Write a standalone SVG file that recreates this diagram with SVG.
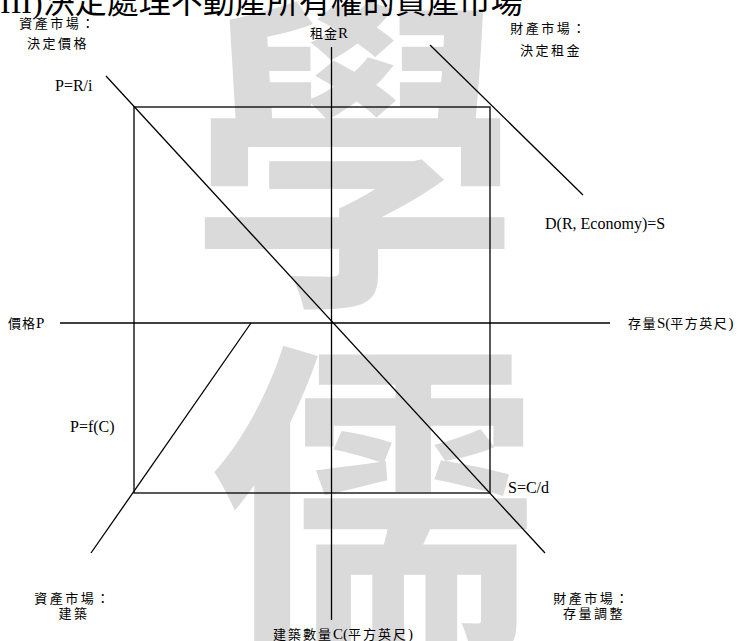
<svg xmlns="http://www.w3.org/2000/svg" width="751" height="641" viewBox="0 0 751 641">
<style>
.wm{font-family:'Noto Sans CJK TC','Noto Sans CJK SC',sans-serif;font-weight:700;fill:#dadada;text-anchor:middle}
.cj{font-family:'Liberation Serif','Noto Sans CJK TC',serif;font-size:13px;letter-spacing:2.5px;fill:#000}
.lt{font-size:15px;letter-spacing:0}
.mid{text-anchor:middle}
.eq{font-family:'Liberation Serif','Times New Roman',serif;font-size:16px;fill:#000}
.title{font-family:'Liberation Serif','Noto Sans CJK TC',serif;font-size:32px;fill:#000}
.ln{stroke:#000;stroke-width:1.3;fill:none}
</style>
<rect width="751" height="641" fill="#fff"/>
<g id="watermark">
<text class="wm" x="355" y="280" font-size="330">學</text>
<text class="wm" x="375" y="625" font-size="330">儒</text>
</g>
<text class="title" x="0" y="13">III)決定處理不動產所有權的資產市場</text>
<g id="connectors">
<line class="ln" x1="331.5" y1="47" x2="331.5" y2="620"/>
<line class="ln" x1="60" y1="323" x2="610" y2="323"/>
<rect class="ln" x="134" y="107" width="356" height="386"/>
<line class="ln" x1="106" y1="76" x2="545" y2="553"/>
<line class="ln" x1="430" y1="45" x2="583" y2="195"/>
<line class="ln" x1="251" y1="323" x2="91" y2="553"/>
</g>
<g id="asset-price">
<text class="cj mid" x="58" y="28">資產市場：</text>
<text class="cj mid" x="58" y="48">決定價格</text>
</g>
<g id="property-rent">
<text class="cj mid" x="549" y="33">財產市場：</text>
<text class="cj mid" x="551" y="55">決定租金</text>
</g>
<g id="asset-construction">
<text class="cj mid" x="73" y="603">資產市場：</text>
<text class="cj mid" x="74" y="618">建築</text>
</g>
<g id="property-stock">
<text class="cj mid" x="592" y="603">財產市場：</text>
<text class="cj mid" x="594" y="618">存量調整</text>
</g>
<g id="axis-labels">
<text class="cj" x="310" y="38" style="letter-spacing:1px">租金<tspan class="lt">R</tspan></text>
<text class="cj" x="8" y="328" style="letter-spacing:1px">價格<tspan class="lt">P</tspan></text>
<text class="cj" x="628" y="328" style="letter-spacing:1.5px">存量<tspan class="lt">S(</tspan>平方英尺<tspan class="lt">)</tspan></text>
<text class="cj" x="273" y="639" style="letter-spacing:2px">建築數量<tspan class="lt">C(</tspan>平方英尺<tspan class="lt">)</tspan></text>
</g>
<g id="curve-labels">
<text class="eq" x="55" y="91">P=R/i</text>
<text class="eq" x="545" y="229">D(R, Economy)=S</text>
<text class="eq" x="70" y="432">P=f(C)</text>
<text class="eq" x="508" y="493">S=C/d</text>
</g>
</svg>
